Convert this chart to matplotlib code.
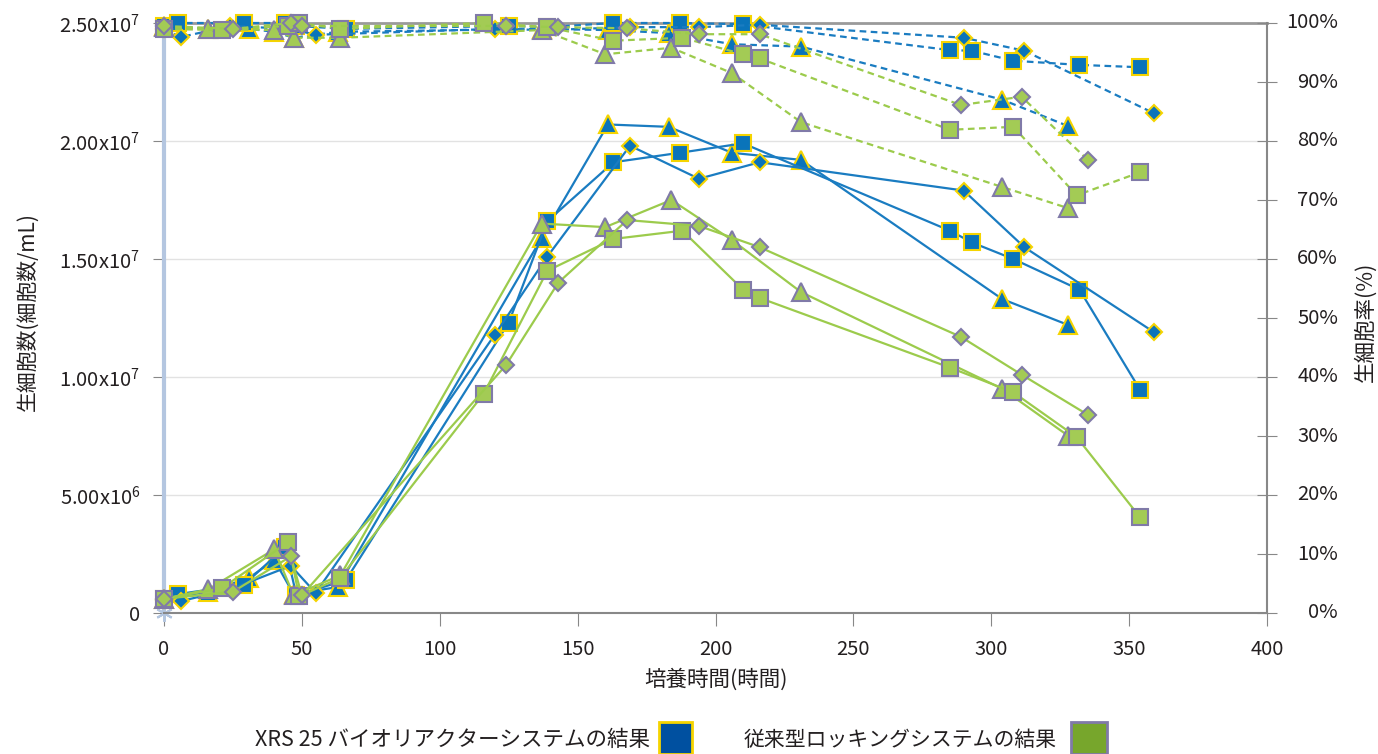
import matplotlib.pyplot as plt
from matplotlib import transforms
from matplotlib.patches import Rectangle

plt.rcParams['font.family'] = ['Noto Sans CJK JP', 'DejaVu Sans']

# XRS 25 bioreactor runs: culture time (h), viable cell density (x1e6 cells/mL), viability (%)
xrs_tri_h = [0, 16, 31, 40, 47, 63, 137, 161, 183, 206, 231, 304, 328]
xrs_tri_vcd = [0.6, 0.9, 1.5, 2.25, 0.8, 1.1, 15.9, 20.7, 20.6, 19.5, 19.2, 13.3, 12.2]
xrs_tri_via = [99.5, 99.0, 99.0, 98.5, 97.5, 98.5, 99.0, 98.8, 98.3, 96.4, 96.0, 87.0, 82.5]

xrs_sq_h = [0, 5, 29, 44, 48, 66, 125, 139, 163, 187, 210, 285, 293, 308, 332, 354]
xrs_sq_vcd = [0.6, 0.8, 1.2, 2.8, 0.75, 1.4, 12.3, 16.6, 19.1, 19.5, 19.9, 16.2, 15.7, 15.0, 13.7, 9.45]
xrs_sq_via = [99.5, 100, 100, 100, 99.5, 99.0, 99.5, 99.3, 100, 100, 99.8, 95.4, 95.3, 93.6, 92.9, 92.5]

xrs_dia_h = [0, 6, 24, 46, 55, 120, 139, 169, 194, 216, 290, 312, 359]
xrs_dia_vcd = [0.55, 0.5, 1.0, 2.0, 0.85, 11.8, 15.1, 19.8, 18.4, 19.1, 17.9, 15.5, 11.9]
xrs_dia_via = [99.0, 97.6, 99.5, 99.0, 98.0, 99.0, 98.8, 99.3, 99.3, 99.7, 97.5, 95.3, 84.7]

# conventional rocking system runs
rock_tri_h = [0, 16, 40, 47, 64, 137, 160, 184, 206, 231, 304, 328]
rock_tri_vcd = [0.6, 1.0, 2.7, 0.75, 1.6, 16.5, 16.35, 17.5, 15.8, 13.6, 9.5, 7.5]
rock_tri_via = [99.3, 99.0, 98.8, 97.5, 97.5, 98.8, 94.7, 95.8, 91.5, 83.2, 72.2, 68.6]

rock_sq_h = [0, 21, 45, 49, 64, 116, 139, 163, 188, 210, 216, 285, 308, 331, 354]
rock_sq_vcd = [0.6, 1.05, 3.0, 0.7, 1.5, 9.3, 14.5, 15.85, 16.2, 13.7, 13.35, 10.4, 9.35, 7.45, 4.05]
rock_sq_via = [99.0, 98.8, 99.5, 100, 99.0, 100, 99.3, 97.0, 97.5, 94.7, 94.0, 81.9, 82.4, 70.8, 74.7]

rock_dia_h = [0, 25, 46, 50, 124, 143, 168, 194, 216, 289, 311, 335]
rock_dia_vcd = [0.6, 0.9, 2.4, 0.75, 10.5, 14.0, 16.65, 16.4, 15.5, 11.7, 10.1, 8.4]
rock_dia_via = [99.5, 99.0, 100, 99.5, 99.5, 99.3, 99.1, 98.1, 98.1, 86.1, 87.5, 76.8]

left_ticks = [0, 5e6, 1e7, 1.5e7, 2e7, 2.5e7]
left_labels = ['0', r'$\mathregular{5.00x10^6}$', r'$\mathregular{1.00x10^7}$',
               r'$\mathregular{1.50x10^7}$', r'$\mathregular{2.00x10^7}$', r'$\mathregular{2.50x10^7}$']
right_ticks = list(range(0, 101, 10))
x_ticks = list(range(0, 401, 50))

legend_labels = ['XRS 25 バイオリアクターシステムの結果', '従来型ロッキングシステムの結果']

W, H = 1378, 754
fig = plt.figure(figsize=(W / 100, H / 100), dpi=100)
ax = fig.add_axes([164 / W, 141 / H, 1103 / W, 590 / H])
ax2 = ax.twinx()

blue_line, blue_fill, blue_edge = '#1a7cc1', '#0a74ba', '#f5d400'
green_line, green_fill, green_edge = '#9ccb4c', '#a3cb55', '#807aa8'

runs = [
    (xrs_tri_h, xrs_tri_vcd, xrs_tri_via, '^', 12.5, 'xrs'),
    (xrs_sq_h, xrs_sq_vcd, xrs_sq_via, 's', 12.2, 'xrs'),
    (xrs_dia_h, xrs_dia_vcd, xrs_dia_via, 'D', 8.2, 'xrs'),
    (rock_tri_h, rock_tri_vcd, rock_tri_via, '^', 12.5, 'rock'),
    (rock_sq_h, rock_sq_vcd, rock_sq_via, 's', 12.2, 'rock'),
    (rock_dia_h, rock_dia_vcd, rock_dia_via, 'D', 8.2, 'rock'),
]

for h, vcd, via, mk, ms, sys_ in runs:
    if sys_ == 'xrs':
        lc, fc, ec = blue_line, blue_fill, blue_edge
    else:
        lc, fc, ec = green_line, green_fill, green_edge
    ax.plot(h, [v * 1e6 for v in vcd], color=lc, lw=1.6, marker=mk, ms=ms,
            mfc=fc, mec=ec, mew=1.5, clip_on=False, zorder=3)
    ax2.plot(h, via, color=lc, lw=1.6, ls=(0, (3, 2)), marker=mk, ms=ms,
             mfc=fc, mec=ec, mew=1.5, clip_on=False, zorder=3)

# left axis
ax.set_xlim(0, 400)
ax.set_ylim(0, 2.5e7)
ax.set_yticks(left_ticks)
ax.set_yticklabels(left_labels)
ax.set_xticks(x_ticks)
ax.tick_params(axis='y', direction='out', length=8, color='#888888', labelsize=14.5,
               labelcolor='#231f20', pad=9)
ax.tick_params(axis='x', direction='out', length=9, color='#888888', labelsize=14.5,
               labelcolor='#231f20', pad=10)
ax.yaxis.grid(True, color='#e2e2e2', lw=1)
ax.set_axisbelow(True)

ax.spines['left'].set_color('#b4c6e0')
ax.spines['left'].set_linewidth(3)
ax.spines['top'].set_color('#9a9a9a')
ax.spines['top'].set_linewidth(2)
ax.spines['bottom'].set_color('#888888')
ax.spines['bottom'].set_linewidth(1.5)
ax.spines['right'].set_visible(False)
ax.plot(0, 0, marker=(6, 2, 0), ms=12, color='#b4c6e0', mew=1.5, clip_on=False, zorder=1)

# right axis
ax2.set_ylim(0, 100)
ax2.set_yticks(right_ticks)
ax2.set_yticklabels([])
ax2.tick_params(axis='y', direction='inout', length=14, color='#888888')
for s in ['left', 'top', 'bottom']:
    ax2.spines[s].set_visible(False)
ax2.spines['right'].set_color('#888888')
ax2.spines['right'].set_linewidth(1.5)
tr = transforms.blended_transform_factory(ax2.transAxes, ax2.transData)
for t in right_ticks:
    ax2.text((1338 - 164) / 1103, t, f'{t}%', transform=tr, ha='right', va='center',
             fontsize=14.5, color='#231f20')

# axis titles
fig.text(28 / W, 1 - 312 / H, '生細胞数(細胞数/mL)', rotation=90, ha='center', va='center',
         fontsize=15, color='#231f20')
fig.text(1365 / W, 1 - 322 / H, '生細胞率(%)', rotation=90, ha='center', va='center',
         fontsize=15.5, color='#231f20')
fig.text(716 / W, 1 - 680 / H, '培養時間(時間)', ha='center', va='center',
         fontsize=15.5, color='#231f20')

# legend
fig.text(650 / W, 1 - 740 / H, legend_labels[0], ha='right', va='center', fontsize=15.5, color='#231f20')
fig.patches.append(Rectangle((659 / W, 0), 33 / W, 32 / H, transform=fig.transFigure,
                             facecolor='#0050a0', edgecolor='#f5d400', lw=2))
fig.text(1057 / W, 1 - 740 / H, legend_labels[1], ha='right', va='center', fontsize=15, color='#231f20')
fig.patches.append(Rectangle((1071 / W, 0), 36 / W, 32 / H, transform=fig.transFigure,
                             facecolor='#77a62c', edgecolor='#807aa8', lw=2))

fig.savefig('out.png', dpi=100)
